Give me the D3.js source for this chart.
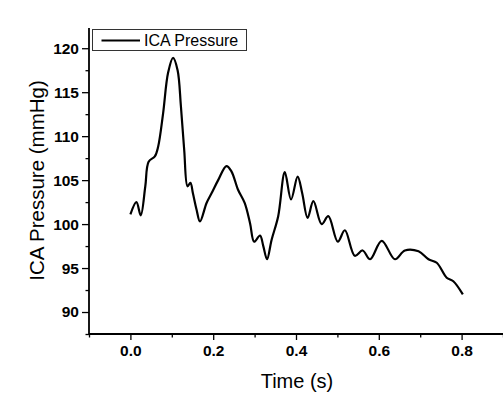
<!DOCTYPE html>
<html>
<head>
<meta charset="utf-8">
<script src="https://cdn.jsdelivr.net/npm/d3@7"></script>
<style>
  html, body { margin: 0; padding: 0; background: #fff; }
  svg { display: block; font-family: "Liberation Sans", Arial, sans-serif; }
</style>
</head>
<body>
<svg id="chart" width="503" height="397"></svg>
<script>
// Data
const timeValues = [0.000, 0.0145, 0.025, 0.036, 0.044, 0.059, 0.067, 0.079, 0.091, 0.103, 0.114, 0.122, 0.130, 0.138, 0.145, 0.151, 0.160, 0.168, 0.184, 0.196, 0.212, 0.232, 0.244, 0.260, 0.276, 0.289, 0.299, 0.313, 0.321, 0.330, 0.341, 0.357, 0.373, 0.388, 0.404, 0.415, 0.428, 0.442, 0.462, 0.478, 0.501, 0.518, 0.542, 0.561, 0.579, 0.607, 0.639, 0.663, 0.696, 0.720, 0.740, 0.764, 0.780, 0.803];
const pressureValues = [101.1, 102.5, 101.0, 104.3, 107.1, 107.7, 108.8, 112.6, 117.2, 118.9, 117.5, 113.4, 108.4, 104.3, 104.7, 103.5, 101.6, 100.3, 102.4, 103.5, 105.0, 106.6, 106.0, 103.9, 102.4, 100.1, 98.0, 98.7, 97.5, 96.0, 98.2, 100.9, 105.9, 102.8, 105.4, 103.5, 100.7, 102.6, 100.0, 100.9, 98.0, 99.3, 96.4, 97.0, 96.0, 98.1, 96.0, 97.0, 96.9, 96.0, 95.6, 93.9, 93.5, 92.0];
const xTickValues = [0.0, 0.2, 0.4, 0.6, 0.8];
const xMinorTickValues = [-0.1, 0.1, 0.3, 0.5, 0.7, 0.9];
const yTickValues = [90, 95, 100, 105, 110, 115, 120];
const yMinorTickValues = [87.5, 92.5, 97.5, 102.5, 107.5, 112.5, 117.5];
const seriesName = "ICA Pressure";
const xTitle = "Time (s)";
const yTitle = "ICA Pressure (mmHg)";

const data = timeValues.map((t, i) => ({ t, p: pressureValues[i] }));

const svg = d3.select("#chart");
const mLeft = 89, mRight = 503, mTop = 28, mBottom = 334;

const x = d3.scaleLinear().domain([-0.1, 0.9]).range([mLeft, mRight]);
const y = d3.scaleLinear().domain([87.5, 122.3]).range([mBottom, mTop]);

// Minor ticks
const xMinor = svg.append("g").attr("transform", `translate(0,${mBottom})`)
  .call(d3.axisBottom(x).tickValues(xMinorTickValues).tickSize(3.5).tickFormat(""));
const yMinor = svg.append("g").attr("transform", `translate(${mLeft},0)`)
  .call(d3.axisLeft(y).tickValues(yMinorTickValues).tickSize(3.5).tickFormat(""));
[xMinor, yMinor].forEach(g => {
  g.select(".domain").remove();
  g.selectAll("line").attr("stroke", "#000").attr("stroke-width", 1.3);
});

// Major axes
const xAxis = svg.append("g").attr("transform", `translate(0,${mBottom})`)
  .call(d3.axisBottom(x).tickValues(xTickValues).tickSize(6).tickPadding(5).tickFormat(d3.format(".1f")));
const yAxis = svg.append("g").attr("transform", `translate(${mLeft},0)`)
  .call(d3.axisLeft(y).tickValues(yTickValues).tickSize(7).tickPadding(3).tickFormat(d3.format("d")));
[xAxis, yAxis].forEach(g => {
  g.select(".domain").attr("stroke", "#000").attr("stroke-width", 1.8);
  g.selectAll(".tick line").attr("stroke", "#000").attr("stroke-width", 1.3);
  g.selectAll("text").attr("fill", "#000").attr("font-size", 15.5).attr("font-weight", "bold")
    .attr("font-family", "'Liberation Sans', Arial, sans-serif");
});
xAxis.select(".domain").attr("d", `M${mLeft},0H${mRight}`);
yAxis.select(".domain").attr("d", `M0,${mTop}V${mBottom}`);

// Line
const line = d3.line().x(d => x(d.t)).y(d => y(d.p)).curve(d3.curveCatmullRom.alpha(0.5));
svg.append("path").datum(data)
  .attr("d", line)
  .attr("fill", "none")
  .attr("stroke", "#000")
  .attr("stroke-width", 2.2)
  .attr("stroke-linejoin", "round");

// Axis titles
svg.append("text")
  .attr("x", 297).attr("y", 388)
  .attr("text-anchor", "middle")
  .attr("font-size", 20)
  .attr("fill", "#000")
  .text(xTitle);
svg.append("text")
  .attr("transform", "translate(43.5,180.5) rotate(-90)")
  .attr("text-anchor", "middle")
  .attr("font-size", 20.5)
  .attr("fill", "#000")
  .text(yTitle);

// Legend
const legend = svg.append("g");
legend.append("rect")
  .attr("x", 92.5).attr("y", 29.5).attr("width", 154).attr("height", 21)
  .attr("fill", "#fff").attr("stroke", "#333").attr("stroke-width", 1);
legend.append("line")
  .attr("x1", 101.5).attr("x2", 140).attr("y1", 40.5).attr("y2", 40.5)
  .attr("stroke", "#000").attr("stroke-width", 2.2);
legend.append("text")
  .attr("x", 144).attr("y", 45.5)
  .attr("font-size", 16)
  .attr("fill", "#000")
  .text(seriesName);
</script>
</body>
</html>
